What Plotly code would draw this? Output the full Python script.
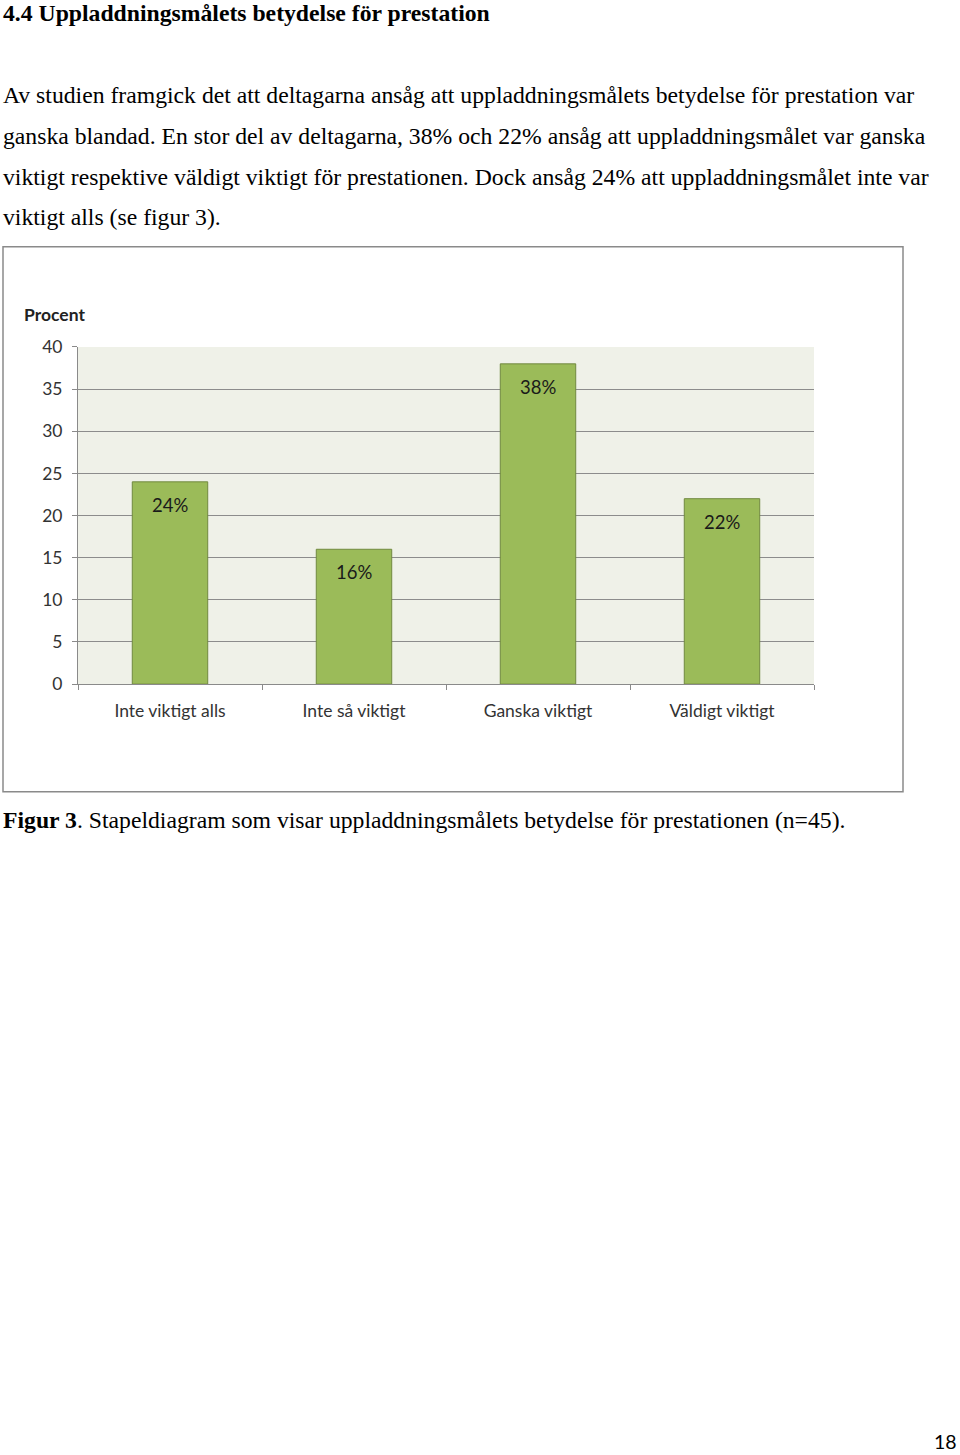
import plotly.graph_objects as go

W, H = 960, 1455

categories = ["Inte viktigt alls", "Inte så viktigt", "Ganska viktigt", "Väldigt viktigt"]
values = [24, 16, 38, 22]
bar_labels = ["24%", "16%", "38%", "22%"]
y_ticks = [0, 5, 10, 15, 20, 25, 30, 35, 40]

heading = "4.4 Uppladdningsmålets betydelse för prestation"
body_lines = [
    "Av studien framgick det att deltagarna ansåg att uppladdningsmålets betydelse för prestation var",
    "ganska blandad. En stor del av deltagarna, 38% och 22% ansåg att uppladdningsmålet var ganska",
    "viktigt respektive väldigt viktigt för prestationen. Dock ansåg 24% att uppladdningsmålet inte var",
    "viktigt alls (se figur 3).",
]
caption = "<b>Figur 3</b>. Stapeldiagram som visar uppladdningsmålets betydelse för prestationen (n=45)."
page_no = "18"


def px(x):
    return x / W


def py(y):
    # compensates the slight vertical offset/scale of the photographed page
    return 1 - (y / 0.9881 - 9.26) / H


SERIF = "Liberation Serif, Times New Roman, serif"
SANS = "Lato, Open Sans, sans-serif"

fig = go.Figure()
fig.add_trace(go.Bar(
    x=categories, y=values, width=0.41,
    marker=dict(color="#9bbb59", line=dict(color="#71893f", width=1)),
    hoverinfo="skip",
))

annotations = []
for c, v, t in zip(categories, values, bar_labels):
    annotations.append(dict(x=c, y=v, xref="x", yref="y", text=t, showarrow=False,
                            yshift=-23, font=dict(family=SANS, size=18.5, color="#1a1a1a")))

annotations.append(dict(x=px(1), y=py(11.5), xref="paper", yref="paper", text="<b>" + heading + "</b>",
                        showarrow=False, xanchor="left", yanchor="middle",
                        font=dict(family=SERIF, size=23.7, color="#000")))
for i, line in enumerate(body_lines):
    annotations.append(dict(x=px(1), y=py(93.8 + i * 40.7), xref="paper", yref="paper", text=line,
                            showarrow=False, xanchor="left", yanchor="middle",
                            font=dict(family=SERIF, size=23.7, color="#000")))
annotations.append(dict(x=px(1), y=py(820), xref="paper", yref="paper", text=caption,
                        showarrow=False, xanchor="left", yanchor="middle",
                        font=dict(family=SERIF, size=23.7, color="#000")))
annotations.append(dict(x=px(959), y=py(1443), xref="paper", yref="paper", text=page_no,
                        showarrow=False, xanchor="right", yanchor="middle",
                        font=dict(family=SANS, size=19.5, color="#000")))
annotations.append(dict(x=px(22), y=py(313), xref="paper", yref="paper", text="<b>Procent</b>",
                        showarrow=False, xanchor="left", yanchor="middle",
                        font=dict(family=SANS, size=17.5, color="#222")))

fig.update_layout(
    width=W, height=H,
    margin=dict(l=0, r=0, t=0, b=0),
    paper_bgcolor="white",
    plot_bgcolor="#eff1e8",
    showlegend=False,
    annotations=annotations,
    shapes=[dict(type="rect", xref="paper", yref="paper",
                 x0=px(3), x1=px(903), y0=py(792), y1=py(245.5),
                 line=dict(color="#8a8a8a", width=1.5), fillcolor="rgba(0,0,0,0)", layer="below")],
)
fig.update_xaxes(
    domain=[px(78), px(814)], range=[-0.5, 3.5],
    showline=True, linecolor="#8a8a8a", linewidth=1,
    ticks="outside", tickson="boundaries", ticklen=5, tickcolor="#8a8a8a",
    tickfont=dict(family=SANS, size=17.5, color="#333"),
    showgrid=False, fixedrange=True, ticklabelstandoff=11,
)
fig.update_yaxes(
    domain=[py(684), py(346)], range=[0, 40],
    tickvals=y_ticks,
    showline=True, linecolor="#8a8a8a", linewidth=1,
    ticks="outside", ticklen=5, tickcolor="#8a8a8a",
    showgrid=True, gridcolor="#8c8c8c", gridwidth=1,
    zeroline=False,
    tickfont=dict(family=SANS, size=17.5, color="#333"),
    ticklabelstandoff=6, fixedrange=True,
)

fig.write_html("out.html")
